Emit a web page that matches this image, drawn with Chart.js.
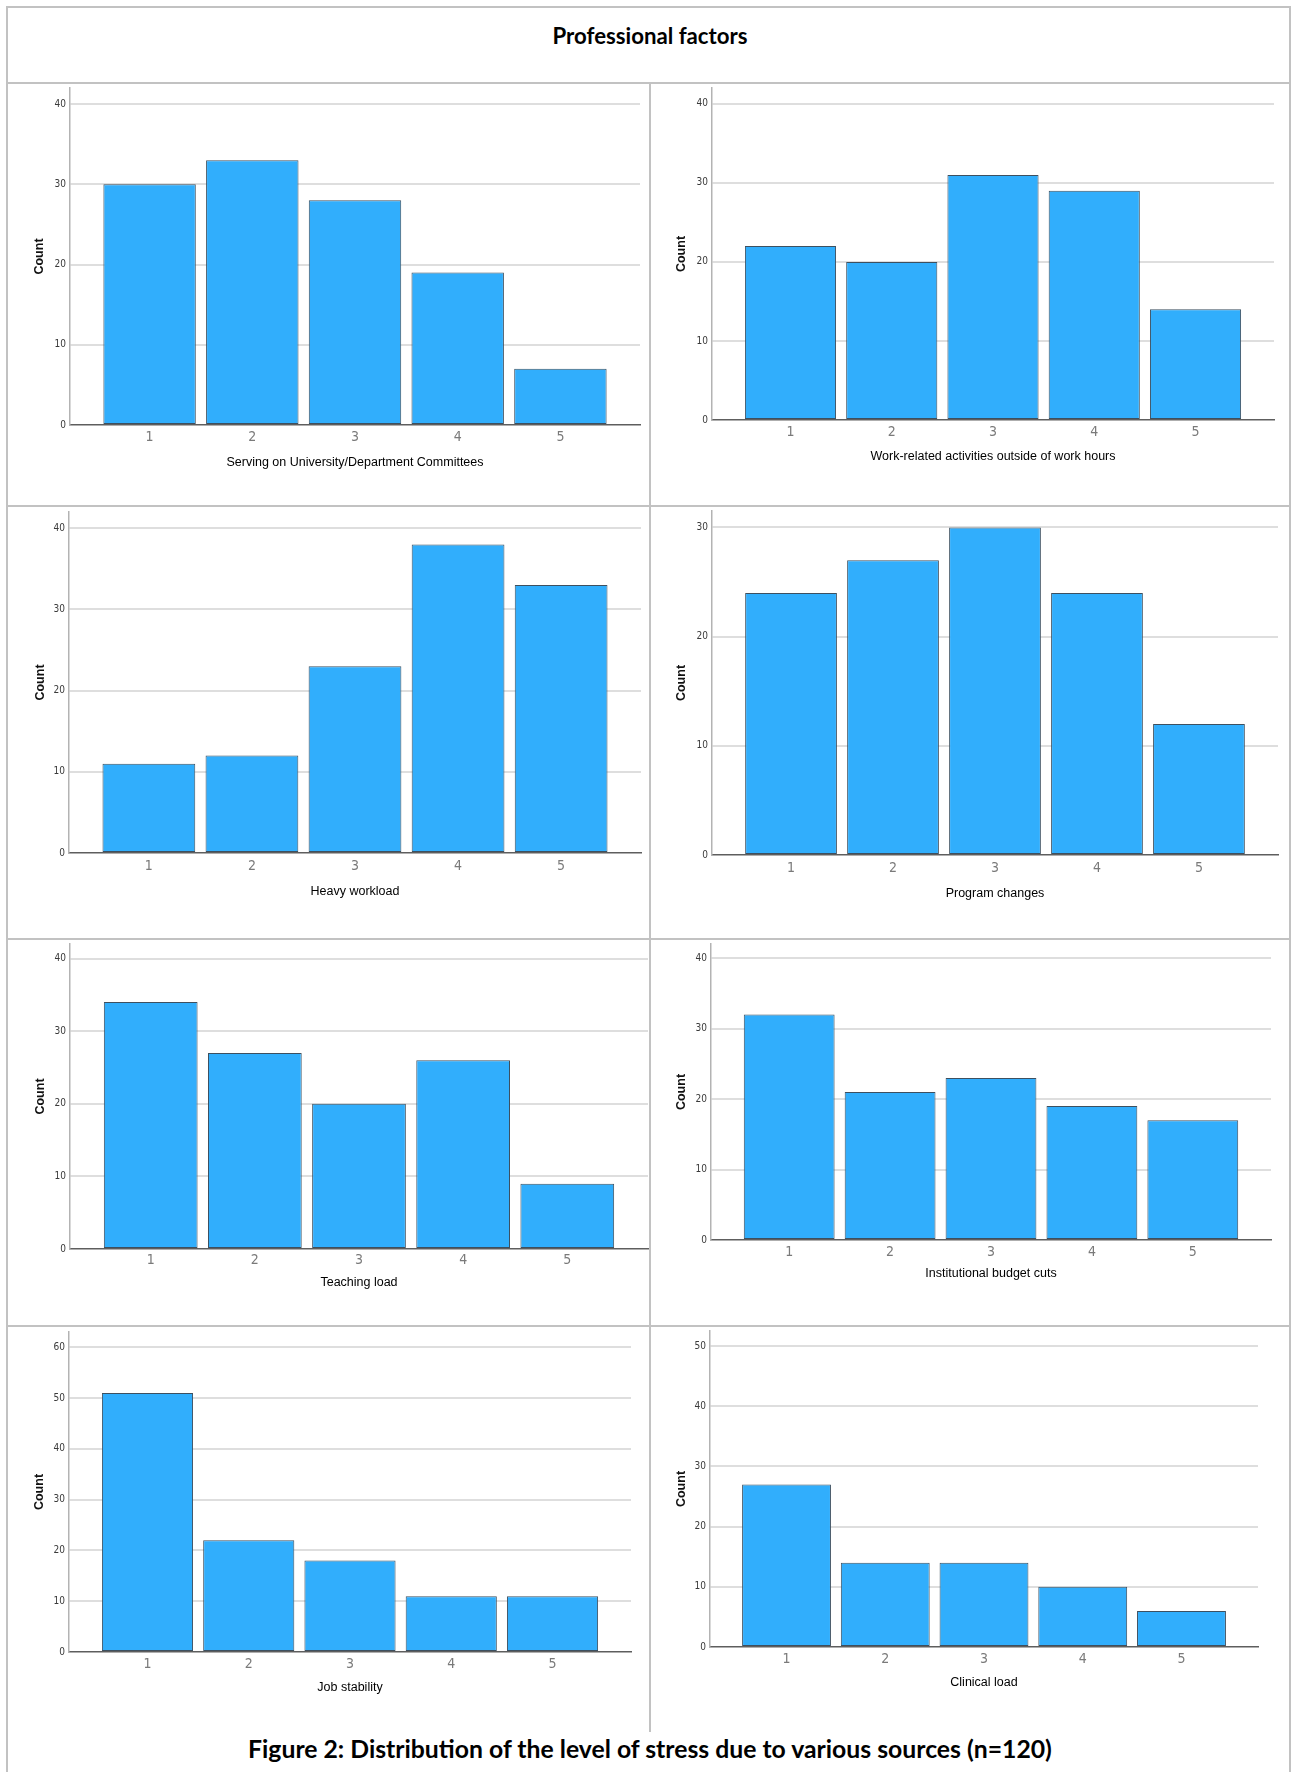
<!DOCTYPE html>
<html>
<head>
<meta charset="utf-8">
<title>Professional factors</title>
<script src="https://cdn.jsdelivr.net/npm/chart.js@4.4.1/dist/chart.umd.min.js"></script>
<style>
  html, body { margin: 0; padding: 0; background: #fff; }
  #page { position: relative; width: 1293px; height: 1772px; overflow: hidden; background: #fff; }
  .rule { position: absolute; background: #c2c2c2; }
  .panel { position: absolute; display: block; }
  .heading {
    position: absolute; white-space: nowrap; line-height: 1;
    font-family: Lato, "Open Sans", sans-serif; font-weight: 700; color: #000;
    transform: translate(-50%, -50%);
  }
</style>
</head>
<body>
<div id="page"></div>
<script>
// ---- data -------------------------------------------------------------
const levels = [1, 2, 3, 4, 5];

const committees     = [30, 33, 28, 19, 7];
const outsideHours   = [22, 20, 31, 29, 14];
const heavyWorkload  = [11, 12, 23, 38, 33];
const programChanges = [24, 27, 30, 24, 12];
const teachingLoad   = [34, 27, 20, 26, 9];
const budgetCuts     = [32, 21, 23, 19, 17];
const jobStability   = [51, 22, 18, 11, 11];
const clinicalLoad   = [27, 14, 14, 10, 6];

const seriesList = [committees, outsideHours, heavyWorkload, programChanges,
                    teachingLoad, budgetCuts, jobStability, clinicalLoad];

const axisTitles = [
  'Serving on University/Department Committees',
  'Work-related activities outside of work hours',
  'Heavy workload',
  'Program changes',
  'Teaching load',
  'Institutional budget cuts',
  'Job stability',
  'Clinical load'
];

const countTicks40 = [0, 10, 20, 30, 40];
const countTicks30 = [0, 10, 20, 30];
const countTicks60 = [0, 10, 20, 30, 40, 50, 60];
const countTicks50 = [0, 10, 20, 30, 40, 50];
const yTickSets = [countTicks40, countTicks40, countTicks40, countTicks30,
                   countTicks40, countTicks40, countTicks60, countTicks50];
const yMaxima = [42, 42, 42, 31.5, 42, 42, 63, 52.5];

const pageTitle = 'Professional factors';
const pageCaption = 'Figure 2: Distribution of the level of stress due to various sources (n=120)';

// ---- page layout (plot rectangles, label anchors) ---------------------
const boxes = [
  { left: 70,  right: 640,  top: 88,   bottom: 425,  countX: 40,  tickY: 437,  titleY: 463 },
  { left: 712, right: 1274, top: 88,   bottom: 420,  countX: 682, tickY: 432,  titleY: 457 },
  { left: 69,  right: 641,  top: 512,  bottom: 853,  countX: 41,  tickY: 866,  titleY: 892 },
  { left: 712, right: 1278, top: 511,  bottom: 855,  countX: 682, tickY: 868,  titleY: 894 },
  { left: 70,  right: 648,  top: 944,  bottom: 1249, countX: 41,  tickY: 1260, titleY: 1283 },
  { left: 711, right: 1271, top: 944,  bottom: 1240, countX: 682, tickY: 1252, titleY: 1274 },
  { left: 69,  right: 631,  top: 1332, bottom: 1652, countX: 40,  tickY: 1664, titleY: 1688 },
  { left: 710, right: 1258, top: 1331, bottom: 1647, countX: 682, tickY: 1659, titleY: 1683 }
];

const page = document.getElementById('page');

// table frame
function rule(x, y, w, h) {
  const d = document.createElement('div');
  d.className = 'rule';
  Object.assign(d.style, { left: x + 'px', top: y + 'px', width: w + 'px', height: h + 'px' });
  page.appendChild(d);
}
rule(6, 6, 1285, 2);        // top
rule(6, 6, 2, 1766);        // left
rule(1289, 6, 2, 1766);     // right
rule(6, 82, 1285, 2);       // under the heading band
rule(6, 505, 1285, 2);
rule(6, 938, 1285, 2);
rule(6, 1325, 1285, 2);
rule(649, 83, 2, 1649);     // column divider

// headings sized to their set widths
const measureCtx = document.createElement('canvas').getContext('2d');
function heading(text, cx, cy, width) {
  measureCtx.font = '700 100px Lato, "Open Sans", sans-serif';
  const size = 100 * width / measureCtx.measureText(text).width;
  const d = document.createElement('div');
  d.className = 'heading';
  d.textContent = text;
  Object.assign(d.style, { left: cx + 'px', top: cy + 'px', fontSize: size.toFixed(2) + 'px' });
  page.appendChild(d);
}
heading(pageTitle, 650, 36, 195);
heading(pageCaption, 650, 1749, 806);

// ---- charts -----------------------------------------------------------
const NARROW = '"Liberation Sans Narrow", "Arial Narrow", "DejaVu Sans Condensed", sans-serif';
const SANS = '"Liberation Sans", Arial, sans-serif';
const PAD_L = 60, PAD_T = 14, PAD_R = 12, PAD_B = 56;
const TICK_FONT = 14, TITLE_FONT = 12.5;

function drawPanel(i) {
  const b = boxes[i];
  const values = seriesList[i];
  const yTicks = yTickSets[i];

  const canvas = document.createElement('canvas');
  canvas.className = 'panel';
  const w = PAD_L + (b.right - b.left) + PAD_R;
  const h = PAD_T + (b.bottom - b.top) + PAD_B;
  canvas.width = w; canvas.height = h;
  canvas.style.width = w + 'px'; canvas.style.height = h + 'px';
  canvas.style.left = (b.left - PAD_L) + 'px';
  canvas.style.top = (b.top - PAD_T) + 'px';
  page.appendChild(canvas);

  const countPad = (b.countX - (b.left - PAD_L)) - TITLE_FONT * 1.2 / 2;
  const tickPad = (b.tickY - b.bottom) - TICK_FONT * 1.2 / 2;
  const titlePad = PAD_B - TITLE_FONT * 1.2 / 2 - (b.titleY - b.bottom);

  new Chart(canvas, {
    type: 'bar',
    data: {
      datasets: [{
        data: values.map((v, k) => ({ x: levels[k], y: v })),
        backgroundColor: '#31aefc',
        borderColor: '#3d5060',
        borderWidth: 1,
        borderSkipped: false,
        categoryPercentage: 1,
        barPercentage: 0.9
      }]
    },
    options: {
      responsive: false,
      animation: false,
      events: [],
      layout: { padding: { left: 0, top: PAD_T, right: PAD_R, bottom: 0 } },
      plugins: { legend: { display: false }, tooltip: { enabled: false }, title: { display: false } },
      scales: {
        x: {
          type: 'linear',
          offset: false,
          bounds: 'data',
          min: 0.225,
          max: 5.775,
          afterBuildTicks: s => { s.ticks = levels.map(v => ({ value: v })); },
          afterFit: s => { s.height = PAD_B; },
          grid: { display: false, drawTicks: false },
          border: { display: true, color: '#5e5e5e', width: 1.5 },
          ticks: {
            padding: tickPad,
            color: '#7a7a7a',
            font: { family: NARROW, size: TICK_FONT },
            maxRotation: 0,
            autoSkip: false
          },
          title: {
            display: true,
            text: axisTitles[i],
            color: '#000',
            font: { family: SANS, size: TITLE_FONT },
            padding: { top: 0, bottom: titlePad }
          }
        },
        y: {
          type: 'linear',
          min: 0,
          max: yMaxima[i],
          afterBuildTicks: s => { s.ticks = yTicks.map(v => ({ value: v })); },
          afterFit: s => { s.width = PAD_L; },
          grid: {
            drawTicks: false,
            lineWidth: 2,
            color: c => (c.tick && c.tick.value === 0) ? 'rgba(0,0,0,0)' : '#dedede'
          },
          border: { display: true, color: '#b3b3b3', width: 1.5 },
          ticks: {
            padding: 4,
            color: '#3a3a3a',
            font: { family: NARROW, size: 10 }
          },
          title: {
            display: true,
            text: 'Count',
            color: '#111',
            font: { family: SANS, size: TITLE_FONT, weight: 'bold' },
            padding: { top: countPad, bottom: 0 }
          }
        }
      }
    }
  });
}

for (let i = 0; i < boxes.length; i++) drawPanel(i);
</script>
</body>
</html>
